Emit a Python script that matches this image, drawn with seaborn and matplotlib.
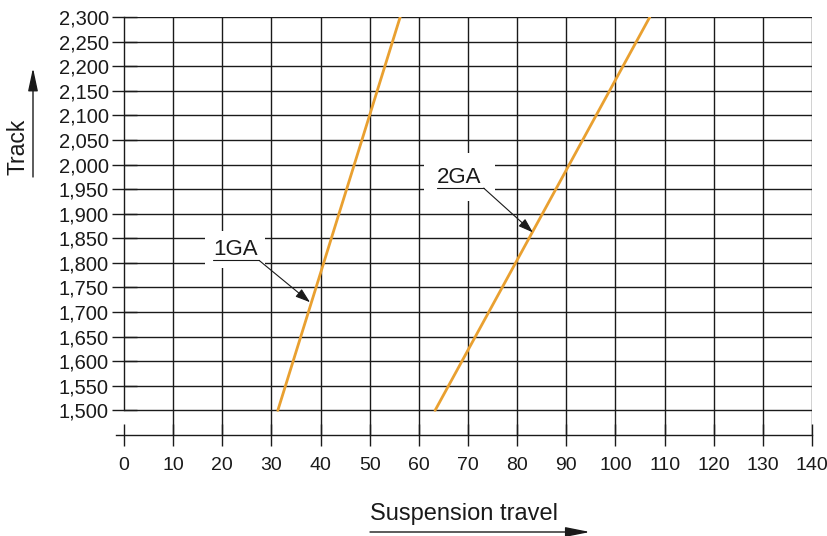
import numpy as np
import pandas as pd
import matplotlib
matplotlib.use('Agg')
import matplotlib.pyplot as plt
import seaborn as sns

# chart data
travel_ticks = list(range(0, 141, 10))
track_ticks = list(range(1500, 2301, 50))
ga1_travel = [31.3, 56.2]
ga1_track = [1500, 2300]
ga2_travel = [63.3, 107.0]
ga2_track = [1500, 2300]
series_names = ['1GA', '2GA']

sns.set_style('white')
plt.rcParams['font.family'] = ['Liberation Sans', 'DejaVu Sans']

df = pd.DataFrame({
    'travel': ga1_travel + ga2_travel,
    'track': ga1_track + ga2_track,
    'variant': [series_names[0]] * 2 + [series_names[1]] * 2,
})

W, H = 828, 536
fig = plt.figure(figsize=(W / 100, H / 100), dpi=100)
ax = fig.add_axes([124 / W, 1 - 435 / H, (812 - 124) / W, (435 - 17) / H])
ax.set_xlim(0, 140)
ax.set_ylim(1450, 2300)

grid_kw = dict(color='#1a1a1a', lw=1.0, zorder=1)
ax.vlines(travel_ticks[1:], 1450, 2300, **grid_kw)
ax.hlines(track_ticks, 0, 140, **grid_kw)

sns.lineplot(data=df, x='travel', y='track', hue='variant',
             palette=['#E9A030', '#E9A030'], lw=2, legend=False, ax=ax, zorder=3)

for s in ['top', 'right']:
    ax.spines[s].set_visible(False)
ax.spines['left'].set_bounds(1500, 2300)
ax.spines['bottom'].set_bounds(-1.6, 140)
for s in ['left', 'bottom']:
    ax.spines[s].set_color('#1a1a1a')
    ax.spines[s].set_linewidth(1.0)

ax.set_xticks(travel_ticks)
ax.set_yticks(track_ticks)
ax.set_yticklabels([f'{v:,}' for v in track_ticks])
ax.tick_params(axis='x', direction='inout', length=16, width=1, pad=8,
               labelsize=14, colors='#1a1a1a', bottom=True)
ax.tick_params(axis='y', direction='inout', length=18, width=1, pad=2,
               labelsize=14.5, colors='#1a1a1a', left=True)
ax.set_xlabel('')
ax.set_ylabel('')

# curve labels with underline and leader arrow
labels = [
    (series_names[0], 18.1, 27.5, 1805, (37.85, 1720), 0.35),
    (series_names[1], 63.7, 73.2, 1952, (83.2, 1862), 0.6),
]
for name, x0, x1, yu, tip, pad in labels:
    ax.text(x0, yu + 1, name, fontsize=16, ha='left', va='bottom', color='#1a1a1a', zorder=4,
            bbox=dict(boxstyle=f'square,pad={pad}', fc='white', ec='none'))
    ax.plot([x0, x1], [yu, yu], color='#1a1a1a', lw=0.8, zorder=5)
    ax.annotate('', xy=tip, xytext=(x1, yu), zorder=5,
                arrowprops=dict(arrowstyle='-|>,head_length=0.9,head_width=0.3',
                                color='#1a1a1a', lw=0.8, shrinkA=0, shrinkB=0))

# axis titles with arrows
fig.text(18 / W, 1 - 147 / H, 'Track', rotation=90, fontsize=16.5, ha='center', va='center', color='#1a1a1a')
ax.annotate('', xy=(33 / W, 1 - 68 / H), xytext=(33 / W, 1 - 177 / H),
            xycoords='figure fraction', textcoords='figure fraction', annotation_clip=False,
            arrowprops=dict(arrowstyle='-|>,head_length=1.4,head_width=0.3',
                            color='#1a1a1a', lw=1, shrinkA=0, shrinkB=0))
fig.text(370 / W, 1 - 514 / H, 'Suspension travel', fontsize=17, ha='left', va='center', color='#1a1a1a')
ax.annotate('', xy=(590 / W, 1 - 532 / H), xytext=(370 / W, 1 - 532 / H),
            xycoords='figure fraction', textcoords='figure fraction', annotation_clip=False,
            arrowprops=dict(arrowstyle='-|>,head_length=1.5,head_width=0.3',
                            color='#1a1a1a', lw=1, shrinkA=0, shrinkB=0))

fig.savefig('out.png', dpi=100)
